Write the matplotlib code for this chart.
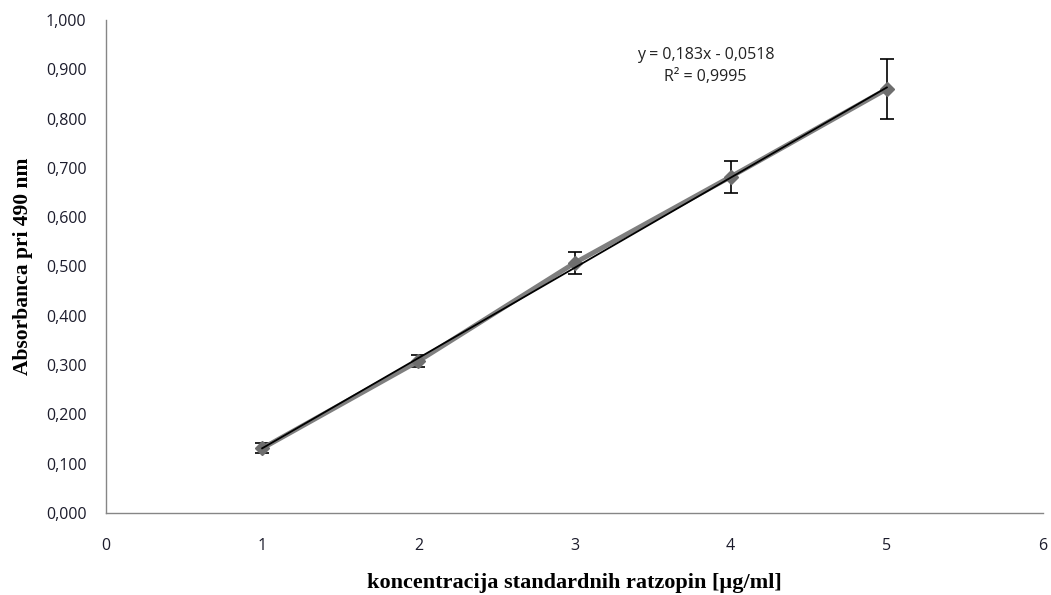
import matplotlib
matplotlib.use("Agg")
import matplotlib.pyplot as plt
import numpy as np
from matplotlib.ticker import FuncFormatter, MultipleLocator

conc = [1, 2, 3, 4, 5]
absorb = [0.131, 0.308, 0.507, 0.682, 0.860]
err = [0.010, 0.012, 0.022, 0.033, 0.060]
slope, intercept = 0.183, -0.0518

fig = plt.figure(figsize=(10.51, 5.95), dpi=100)
ax = fig.add_axes([106/1051, 1-513/595, (1043-106)/1051, (513-20)/595])

tick_color = "#1c1c2c"
ax.errorbar(conc, absorb, yerr=err, color="#7f7f7f", lw=3.5, marker="D", ms=7,
            mfc="#6e6e6e", mec="#6e6e6e", ecolor="black", elinewidth=1.2,
            capsize=5, capthick=1.2, zorder=2)
xs = np.array([conc[0], conc[-1]])
ax.plot(xs, slope*xs + intercept, color="black", lw=1.3, zorder=3)

ax.set_xlim(0, 6)
ax.set_ylim(0, 1.0)
ax.xaxis.set_major_locator(MultipleLocator(1))
ax.yaxis.set_major_locator(MultipleLocator(0.1))
ax.yaxis.set_major_formatter(FuncFormatter(lambda v, p: f"{v:.3f}".replace(".", ",")))
for s in ["top", "right"]:
    ax.spines[s].set_visible(False)
for s in ["left", "bottom"]:
    ax.spines[s].set_color("#868686")
    ax.spines[s].set_linewidth(1.0)
ax.tick_params(axis="both", length=0, labelcolor=tick_color, labelsize=11.5)
ax.tick_params(axis="x", pad=18)
ax.tick_params(axis="y", pad=14)
for lab in ax.get_xticklabels() + ax.get_yticklabels():
    lab.set_family("Open Sans")

ax.set_xlabel("koncentracija standardnih ratzopin [µg/ml]", family="Liberation Serif",
              fontsize=16, fontweight="bold", labelpad=14)
ax.set_ylabel("Absorbanca pri 490 nm", family="Liberation Serif",
              fontsize=15.5, fontweight="bold", labelpad=9)

ax.text(3.84, 0.929, "y = 0,183x - 0,0518", ha="center", va="center",
        family="Open Sans", fontsize=11.5, color="#222222")
ax.text(3.84, 0.884, "R² = 0,9995", ha="center", va="center",
        family="Open Sans", fontsize=11.5, color="#222222")

fig.savefig("out.png", dpi=100)
